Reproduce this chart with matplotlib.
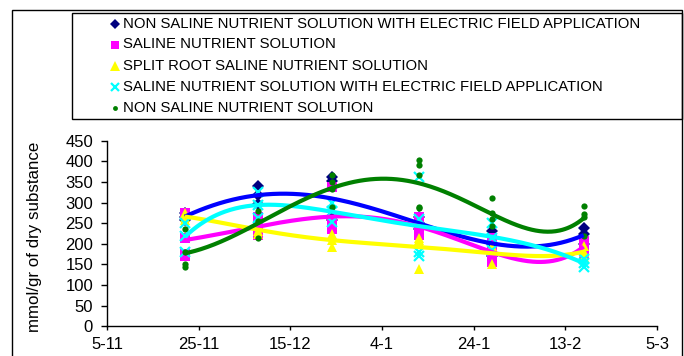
import numpy as np
import matplotlib
matplotlib.use("Agg")
import matplotlib.pyplot as plt
from matplotlib.lines import Line2D
from matplotlib.patches import Rectangle

plt.rcParams['font.family'] = ['Liberation Sans', 'DejaVu Sans']

# sampling days (days after 5-11)
days = [17, 33, 49, 68, 84, 104]
tick_days = [0, 20, 40, 60, 80, 100, 120]
tick_labels = ["5-11", "25-11", "15-12", "4-1", "24-1", "13-2", "5-3"]

labels = [
    "NON SALINE NUTRIENT SOLUTION WITH ELECTRIC FIELD APPLICATION",
    "SALINE NUTRIENT SOLUTION",
    "SPLIT ROOT SALINE NUTRIENT SOLUTION",
    "SALINE NUTRIENT SOLUTION WITH ELECTRIC FIELD APPLICATION",
    "NON SALINE NUTRIENT SOLUTION",
]

# replicate values per sampling day (mmol/gr of dry substance)
nonsaline_ef = [[275, 265, 258], [340, 318, 296], [362, 352, 258, 268], [265, 250, 235], [232, 200, 171], [238, 225, 200]]
saline = [[275, 215, 170, 176], [265, 240, 221], [338, 250, 240, 236], [265, 240, 221], [215, 180, 170, 155], [208, 195, 176]]
split_root = [[275, 265, 258], [245, 232, 225], [225, 210, 192], [215, 210, 205, 140], [195, 185, 151], [195, 180, 168]]
saline_ef = [[250, 220, 181], [325, 295, 262], [300, 280, 254], [362, 260, 180, 170], [250, 215, 186], [163, 153, 143]]
nonsaline = [[235, 180, 150, 143], [280, 255, 215], [368, 350, 332, 290], [402, 390, 366, 290, 287], [310, 275, 260, 243], [292, 272, 264, 220]]

series = [nonsaline_ef, saline, split_root, saline_ef, nonsaline]
trend_order = 5
marker_styles = [
    dict(marker='D', color='#000080', ms=6.5, mew=0),
    dict(marker='s', color='#FF00FF', ms=6.5, mew=0),
    dict(marker='^', color='#FFFF00', ms=7.5, mew=0),
    dict(marker='x', color='#00FFFF', ms=7, mew=1.6),
    dict(marker='o', color='#008000', ms=4.5, mew=0),
]
trend_colors = ['#0000FF', '#FF00FF', '#FFFF00', '#00FFFF', '#008000']

W, H = 684, 356
fig = plt.figure(figsize=(W / 100, H / 100), dpi=100)

def fx(px):
    return px / W

def fy(py):
    return 1 - py / H

# outer frame
fig.add_artist(Rectangle((fx(12), fy(362)), fx(682) - fx(12), fy(10) - fy(362),
                         transform=fig.transFigure, fill=False, edgecolor='black', lw=1.0))

ax = fig.add_axes([fx(107), fy(326.3), fx(657) - fx(107), fy(140.7) - fy(326.3)])

for vals, ms in zip(series, marker_styles):
    xs = [d for d, v in zip(days, vals) for _ in v]
    ys = [y for v in vals for y in v]
    ax.plot(xs, ys, linestyle='none', marker=ms['marker'], color=ms['color'],
            markersize=ms['ms'], markeredgewidth=ms['mew'], zorder=2, clip_on=False)

for vals, c in zip(series, trend_colors):
    xs = np.array([d for d, v in zip(days, vals) for _ in v], dtype=float)
    ys = np.array([y for v in vals for y in v], dtype=float)
    xm = xs.mean()
    coef = np.polyfit(xs - xm, ys, trend_order)
    xx = np.linspace(xs.min(), xs.max(), 300)
    ax.plot(xx, np.polyval(coef, xx - xm), color=c, lw=3.0, zorder=3, solid_capstyle='butt')

ax.set_xlim(0, 120)
ax.set_ylim(0, 450)
ax.set_xticks(tick_days)
ax.set_xticklabels(tick_labels)
ax.set_yticks(range(0, 451, 50))
for s in ['top', 'right']:
    ax.spines[s].set_visible(False)
for s in ['left', 'bottom']:
    ax.spines[s].set_linewidth(1.0)
ax.tick_params(axis='both', labelsize=12, direction='out', width=1, colors='black')
ax.tick_params(axis='x', pad=4.5, length=3)
ax.tick_params(axis='y', pad=6, length=4)
ax.set_ylabel("mmol/gr of dry substance", fontsize=12.2)
ax.yaxis.set_label_coords(-0.118, 0.48)

# legend box (drawn manually)
fig.add_artist(Rectangle((fx(72), fy(119)), fx(682) - fx(72), fy(13) - fy(119),
                         transform=fig.transFigure, fill=False, edgecolor='black', lw=1.0))
row_y = [24, 44.5, 65.5, 87, 108]
for lab, ms, ry in zip(labels, marker_styles, row_y):
    size = {'D': 5, 's': 6, '^': 6.5, 'x': 6, 'o': 3.5}[ms['marker']]
    fig.add_artist(Line2D([fx(115)], [fy(ry)], transform=fig.transFigure, linestyle='none',
                          marker=ms['marker'], color=ms['color'], markersize=size,
                          markeredgewidth=ms['mew'] if ms['marker'] == 'x' else 0))
    fig.text(fx(123), fy(ry), lab, fontsize=10.7, va='center', ha='left', color='black')

fig.savefig("out.png", dpi=100)
